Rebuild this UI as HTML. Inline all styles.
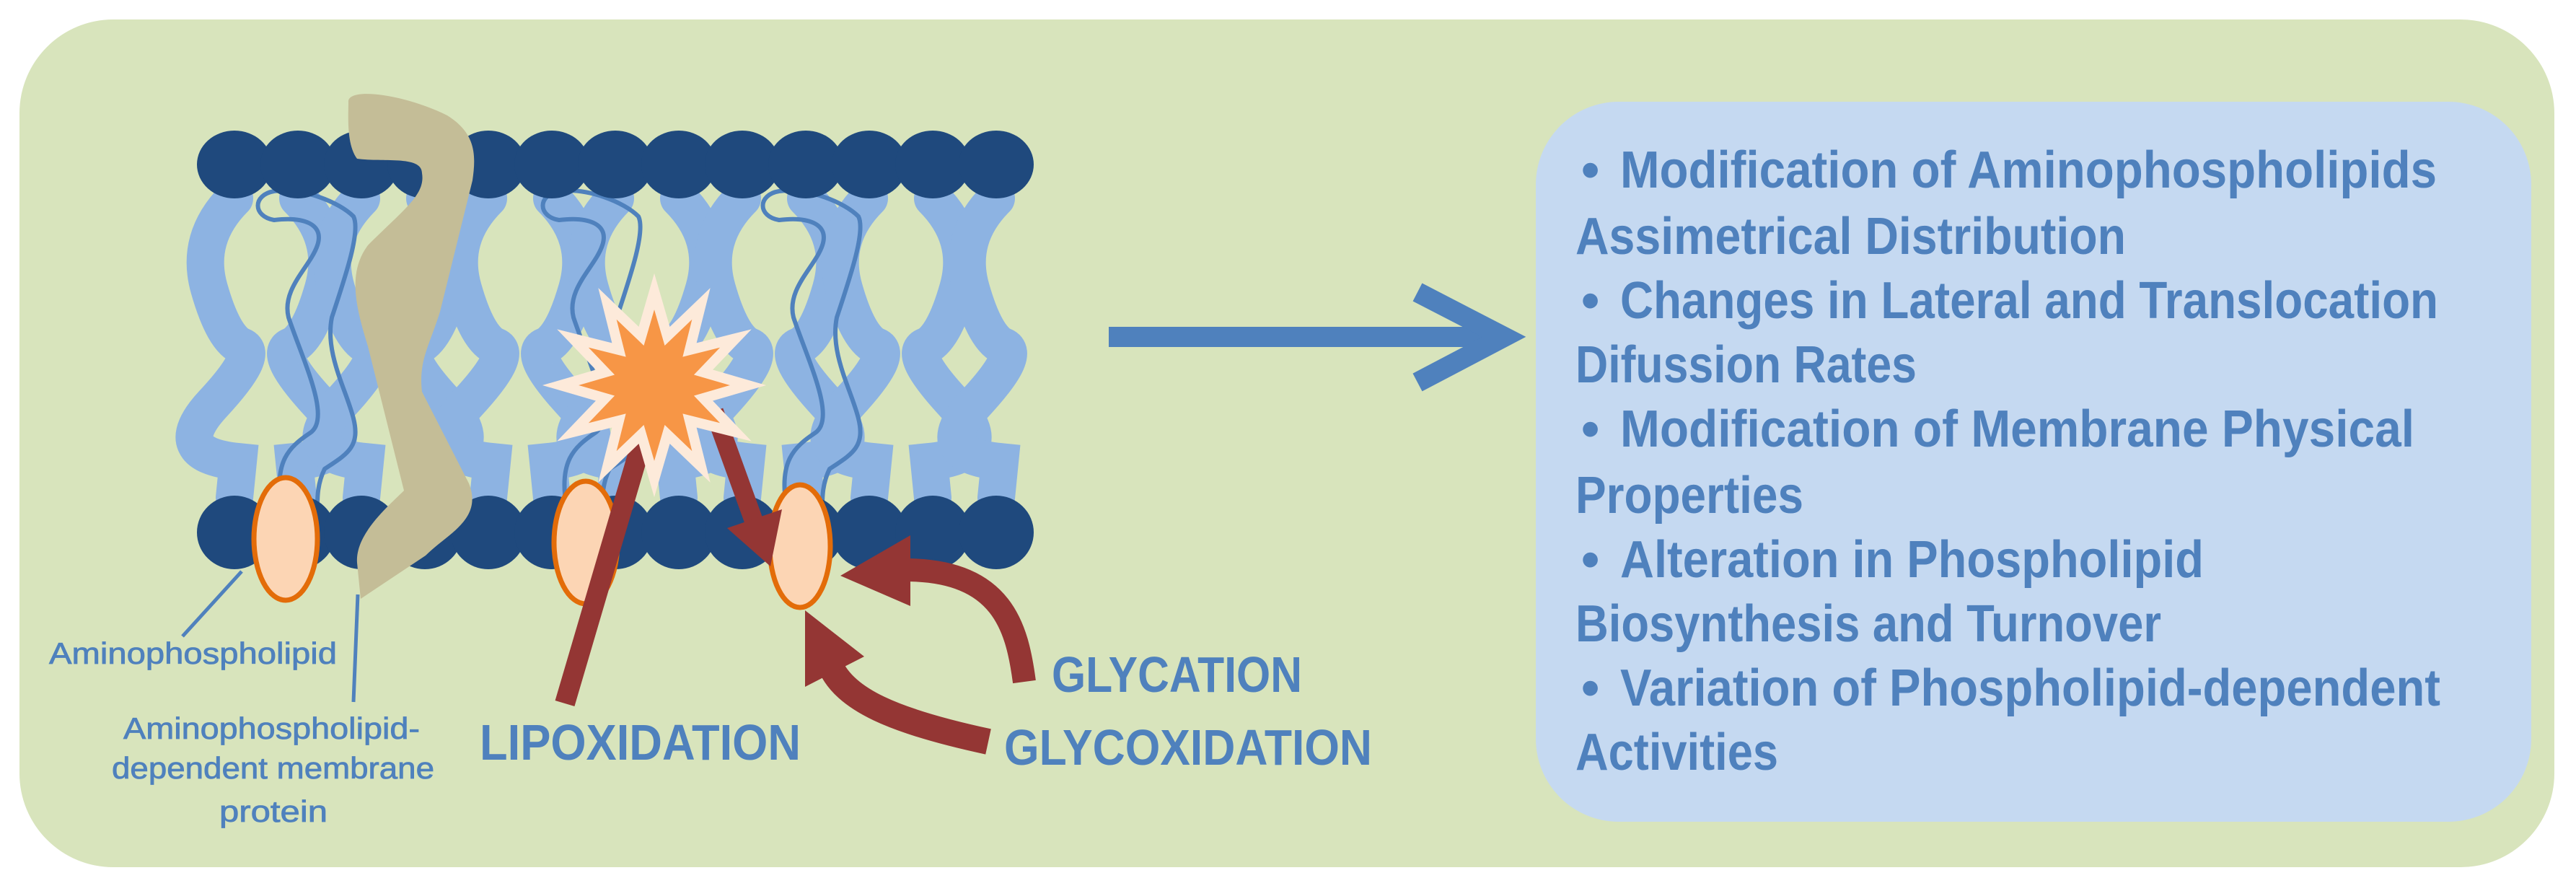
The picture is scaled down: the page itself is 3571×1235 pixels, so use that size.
<!DOCTYPE html>
<html><head><meta charset="utf-8"><style>
html,body{margin:0;padding:0;background:#fff;}
svg{display:block;}
text{font-family:"Liberation Sans",sans-serif;fill:#4f81bd;}
</style></head><body>
<svg width="3571" height="1235" viewBox="0 0 3571 1235" xmlns="http://www.w3.org/2000/svg">
<rect x="27" y="27" width="3514" height="1175" rx="130" fill="#d8e4bc"/>
<rect x="2129" y="141" width="1380" height="998" rx="115" fill="#c5d9f1"/>
<!-- big arrow -->
<line x1="1537" y1="467" x2="2080" y2="467" stroke="#4f81bd" stroke-width="28"/>
<polyline points="1965,405 2085,467 1965,530" fill="none" stroke="#4f81bd" stroke-width="28" stroke-linejoin="miter"/>

<!-- tails light blue -->
<g fill="none" stroke="#8db3e2" stroke-width="52" stroke-linecap="round">
<path d="M325,275 Q270,330 290,400 T335,480 T295,560 T330,640 L325,690"/>
<path d="M413,275 Q468,330 448,400 T403,480 T443,560 T408,640 L413,690"/>
<path d="M501,275 Q446,330 466,400 T511,480 T471,560 T506,640 L501,690"/>
<path d="M589,275 Q644,330 624,400 T579,480 T619,560 T584,640 L589,690"/>
<path d="M677,275 Q622,330 642,400 T687,480 T647,560 T682,640 L677,690"/>
<path d="M765,275 Q820,330 800,400 T755,480 T795,560 T760,640 L765,690"/>
<path d="M853,275 Q798,330 818,400 T863,480 T823,560 T858,640 L853,690"/>
<path d="M941,275 Q996,330 976,400 T931,480 T971,560 T936,640 L941,690"/>
<path d="M1029,275 Q974,330 994,400 T1039,480 T999,560 T1034,640 L1029,690"/>
<path d="M1117,275 Q1172,330 1152,400 T1107,480 T1147,560 T1112,640 L1117,690"/>
<path d="M1205,275 Q1150,330 1170,400 T1215,480 T1175,560 T1210,640 L1205,690"/>
<path d="M1293,275 Q1348,330 1328,400 T1283,480 T1323,560 T1288,640 L1293,690"/>
<path d="M1381,275 Q1326,330 1346,400 T1391,480 T1351,560 T1386,640 L1381,690"/>
</g>
<!-- outlined hairpins -->
<g fill="none" stroke="#4f81bd" stroke-width="6">
<path d="M390,700 C380,640 400,620 430,600 C460,580 420,500 400,440 C390,400 430,370 440,340 C450,310 420,300 380,305 C350,300 350,270 380,265 C420,260 470,280 490,300 C500,320 480,380 460,440 C450,490 480,540 490,580 C500,620 480,630 450,650 C440,670 440,690 440,700"/>
<path transform="translate(395,0)" d="M390,700 C380,640 400,620 430,600 C460,580 420,500 400,440 C390,400 430,370 440,340 C450,310 420,300 380,305 C350,300 350,270 380,265 C420,260 470,280 490,300 C500,320 480,380 460,440 C450,490 480,540 490,580 C500,620 480,630 450,650 C440,670 440,690 440,700"/>
<path transform="translate(700,0)" d="M390,700 C380,640 400,620 430,600 C460,580 420,500 400,440 C390,400 430,370 440,340 C450,310 420,300 380,305 C350,300 350,270 380,265 C420,260 470,280 490,300 C500,320 480,380 460,440 C450,490 480,540 490,580 C500,620 480,630 450,650 C440,670 440,690 440,700"/>
</g>

<!-- heads -->
<g fill="#1f497d">
<ellipse cx="325" cy="228" rx="52" ry="47"/><ellipse cx="413" cy="228" rx="52" ry="47"/><ellipse cx="501" cy="228" rx="52" ry="47"/><ellipse cx="589" cy="228" rx="52" ry="47"/><ellipse cx="677" cy="228" rx="52" ry="47"/><ellipse cx="765" cy="228" rx="52" ry="47"/><ellipse cx="853" cy="228" rx="52" ry="47"/><ellipse cx="941" cy="228" rx="52" ry="47"/><ellipse cx="1029" cy="228" rx="52" ry="47"/><ellipse cx="1117" cy="228" rx="52" ry="47"/><ellipse cx="1205" cy="228" rx="52" ry="47"/><ellipse cx="1293" cy="228" rx="52" ry="47"/><ellipse cx="1381" cy="228" rx="52" ry="47"/>
<ellipse cx="325" cy="738" rx="52" ry="51"/><ellipse cx="413" cy="738" rx="52" ry="51"/><ellipse cx="501" cy="738" rx="52" ry="51"/><ellipse cx="589" cy="738" rx="52" ry="51"/><ellipse cx="677" cy="738" rx="52" ry="51"/><ellipse cx="765" cy="738" rx="52" ry="51"/><ellipse cx="853" cy="738" rx="52" ry="51"/><ellipse cx="941" cy="738" rx="52" ry="51"/><ellipse cx="1029" cy="738" rx="52" ry="51"/><ellipse cx="1117" cy="738" rx="52" ry="51"/><ellipse cx="1205" cy="738" rx="52" ry="51"/><ellipse cx="1293" cy="738" rx="52" ry="51"/><ellipse cx="1381" cy="738" rx="52" ry="51"/>
</g>

<!-- protein -->
<path d="M483,142 C480,120 560,130 620,160 C660,185 660,215 655,250 L610,432 C595,480 580,500 585,543 L650,670 C670,720 620,740 590,770 L500,830 L495,780 C492,740 540,700 560,680 L510,480 C495,430 480,380 510,340 C560,290 590,270 585,240 C585,215 530,225 495,220 C480,200 483,160 483,142 Z" fill="#c4bd97"/>

<!-- ovals -->
<g fill="#fcd5b4" stroke="#e36c09" stroke-width="7">
<ellipse cx="396" cy="747" rx="44" ry="85"/>
<ellipse cx="812" cy="752" rx="44" ry="85"/>
<ellipse cx="1109" cy="757" rx="42" ry="85"/>
</g>

<!-- red arrows -->
<g stroke="#943634" fill="none">
<line x1="783" y1="975" x2="905" y2="560" stroke-width="28"/>
<line x1="990" y1="570" x2="1046" y2="725" stroke-width="26"/>
<path d="M1420,945 C1410,870 1390,790 1255,790" stroke-width="32"/>
<path d="M1370,1028 C1240,1000 1170,970 1150,920" stroke-width="36"/>
</g>
<g fill="#943634">
<polygon points="1068,785 1084,706 1008,732"/>
<polygon points="1165,798 1262,742 1262,840"/>
<polygon points="1116,846 1116,952 1198,910"/>
</g>

<!-- starburst -->
<polygon points="907,404 925,466 972,421 956,485 1020,469 975,516 1037,534 975,552 1020,599 956,583 972,647 925,602 907,664 889,602 842,647 858,583 794,599 839,552 777,534 839,516 794,469 858,485 842,421 889,466" fill="#f79646" stroke="#fdeada" stroke-width="14" stroke-linejoin="miter"/>

<!-- leader lines -->
<g stroke="#4f81bd" stroke-width="5">
<line x1="335" y1="792" x2="253" y2="882"/>
<line x1="496" y1="824" x2="490" y2="973"/>
</g>

<!-- labels -->
<g font-size="42" style="paint-order:stroke" stroke="#4f81bd" stroke-width="0.8">
<text x="68" y="920" textLength="399" lengthAdjust="spacingAndGlyphs">Aminophospholipid</text>
<text x="171" y="1024" textLength="411" lengthAdjust="spacingAndGlyphs">Aminophospholipid-</text>
<text x="155" y="1079" textLength="447" lengthAdjust="spacingAndGlyphs">dependent membrane</text>
<text x="304" y="1139" textLength="150" lengthAdjust="spacingAndGlyphs">protein</text>
</g>
<g font-size="70" font-weight="bold">
<text x="665" y="1053" textLength="445" lengthAdjust="spacingAndGlyphs">LIPOXIDATION</text>
<text x="1458" y="959" textLength="347" lengthAdjust="spacingAndGlyphs">GLYCATION</text>
<text x="1392" y="1060" textLength="510" lengthAdjust="spacingAndGlyphs">GLYCOXIDATION</text>
</g>

<!-- right text -->
<g font-size="72" font-weight="bold">
<text x="2192" y="260">•</text><text x="2246" y="260" textLength="1132" lengthAdjust="spacingAndGlyphs">Modification of Aminophospholipids</text>
<text x="2184" y="352" textLength="763" lengthAdjust="spacingAndGlyphs">Assimetrical Distribution</text>
<text x="2192" y="441">•</text><text x="2246" y="441" textLength="1134" lengthAdjust="spacingAndGlyphs">Changes in Lateral and Translocation</text>
<text x="2184" y="530" textLength="473" lengthAdjust="spacingAndGlyphs">Difussion Rates</text>
<text x="2192" y="619">•</text><text x="2246" y="619" textLength="1101" lengthAdjust="spacingAndGlyphs">Modification of Membrane Physical</text>
<text x="2184" y="711" textLength="316" lengthAdjust="spacingAndGlyphs">Properties</text>
<text x="2192" y="800">•</text><text x="2246" y="800" textLength="809" lengthAdjust="spacingAndGlyphs">Alteration in Phospholipid</text>
<text x="2184" y="889" textLength="812" lengthAdjust="spacingAndGlyphs">Biosynthesis and Turnover</text>
<text x="2192" y="978">•</text><text x="2246" y="978" textLength="1137" lengthAdjust="spacingAndGlyphs">Variation of Phospholipid-dependent</text>
<text x="2184" y="1067" textLength="281" lengthAdjust="spacingAndGlyphs">Activities</text>
</g>
</svg>
</body></html>
